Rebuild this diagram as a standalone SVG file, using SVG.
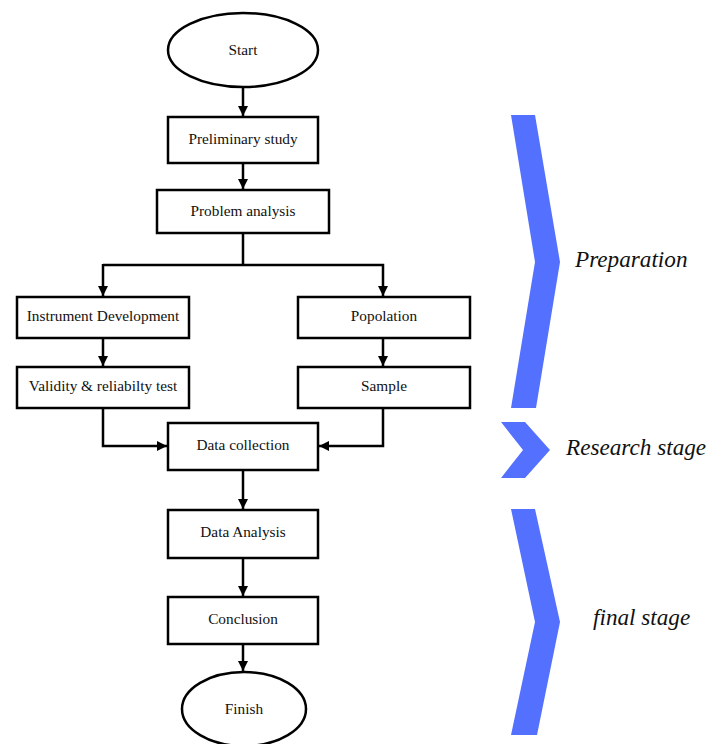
<svg xmlns="http://www.w3.org/2000/svg" width="709" height="744" viewBox="0 0 709 744">
<style>
.box{fill:#fff;stroke:#000;stroke-width:2.5}
.lbl{font-family:"Liberation Serif",serif;font-size:15.3px;fill:#111;text-anchor:middle;dominant-baseline:central}
.conn{fill:none;stroke:#000;stroke-width:2.5}
.stage{fill:#5470FF}
.stxt{font-family:"Liberation Serif",serif;font-size:23.2px;font-style:italic;fill:#111}
</style>
<defs>
<marker id="ah" viewBox="0 0 10 10" refX="10" refY="5" markerWidth="4.4" markerHeight="4" markerUnits="strokeWidth" orient="auto">
<path d="M0,0 L10,5 L0,10 Z" fill="#000"/>
</marker>
</defs>
<rect width="709" height="744" fill="#fff"/>
<g id="connectors">
<path class="conn" d="M243,88 V116" marker-end="url(#ah)"/>
<path class="conn" d="M243,163 V189" marker-end="url(#ah)"/>
<path class="conn" d="M243,233 V265 M243,265 H103"/>
<path class="conn" d="M103,264 V296" marker-end="url(#ah)"/>
<path class="conn" d="M243,265 H383 V296" marker-end="url(#ah)"/>
<path class="conn" d="M103,338 V366" marker-end="url(#ah)"/>
<path class="conn" d="M383,338 V366" marker-end="url(#ah)"/>
<path class="conn" d="M103,408 V446 H167" marker-end="url(#ah)"/>
<path class="conn" d="M383,408 V446 H319" marker-end="url(#ah)"/>
<path class="conn" d="M243,470 V509" marker-end="url(#ah)"/>
<path class="conn" d="M243,558 V596" marker-end="url(#ah)"/>
<path class="conn" d="M243,644 V671" marker-end="url(#ah)"/>
</g>
<g id="start"><ellipse class="box" cx="243" cy="50" rx="75" ry="37"/><text class="lbl" x="243" y="49">Start</text></g>
<g id="preliminary"><rect class="box" x="168" y="117" width="150" height="46"/><text class="lbl" x="243" y="138">Preliminary study</text></g>
<g id="problem"><rect class="box" x="157" y="190" width="172" height="43"/><text class="lbl" x="243" y="210">Problem analysis</text></g>
<g id="instrument"><rect class="box" x="17" y="297" width="172" height="41"/><text class="lbl" x="103" y="315">Instrument Development</text></g>
<g id="popolation"><rect class="box" x="298" y="297" width="172" height="41"/><text class="lbl" x="384" y="315">Popolation</text></g>
<g id="validity"><rect class="box" x="17" y="367" width="172" height="41"/><text class="lbl" x="103" y="385">Validity &amp; reliabilty test</text></g>
<g id="sample"><rect class="box" x="298" y="367" width="172" height="41"/><text class="lbl" x="384" y="385">Sample</text></g>
<g id="collection"><rect class="box" x="168" y="423" width="150" height="47"/><text class="lbl" x="243" y="444">Data collection</text></g>
<g id="analysis"><rect class="box" x="168" y="510" width="150" height="48"/><text class="lbl" x="243" y="531">Data Analysis</text></g>
<g id="conclusion"><rect class="box" x="168" y="597" width="150" height="47"/><text class="lbl" x="243" y="618">Conclusion</text></g>
<g id="finish"><ellipse class="box" cx="244" cy="709" rx="62" ry="37"/><text class="lbl" x="244" y="708">Finish</text></g>
<g id="stage-preparation"><polygon class="stage" points="511,115 535,115 560,262 536,408 511,408 535,262"/><text class="stxt" x="575" y="267">Preparation</text></g>
<g id="stage-research"><polygon class="stage" points="501,422 525,422 550,450 525,478 501,478 523,450"/><text class="stxt" x="566" y="455">Research stage</text></g>
<g id="stage-final"><polygon class="stage" points="511,509 535,509 560,622 537,735 511,735 535,622"/><text class="stxt" x="593" y="625">final stage</text></g>
</svg>
